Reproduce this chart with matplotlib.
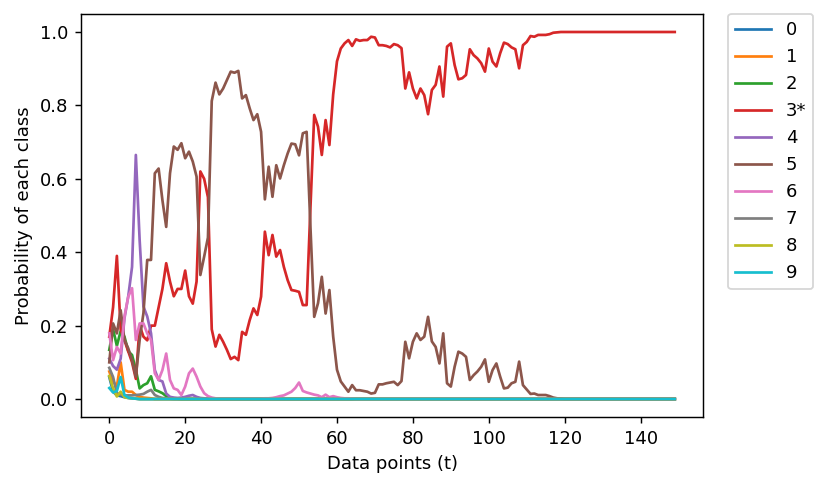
import matplotlib
matplotlib.use("Agg")
import matplotlib.pyplot as plt
import numpy as np

labels = ["0", "1", "2", "3*", "4", "5", "6", "7", "8", "9"]
n_points = 150

class0 = [0.06, 0.02, 0.01, 0.008, 0.005, 0.003, 0.002, 0.001]
class1 = [0.075, 0.047, 0.035, 0.10, 0.025, 0.02, 0.02, 0.011, 0.006, 0.004, 0.003, 0.002]
class2 = [0.134, 0.19, 0.145, 0.185, 0.17, 0.13, 0.12, 0.08, 0.029, 0.038, 0.043, 0.062,
          0.025, 0.021, 0.016, 0.008, 0.004, 0.002, 0.001]
class3 = [0.17, 0.25, 0.39, 0.19, 0.16, 0.13, 0.10, 0.055, 0.20, 0.17,
          0.16, 0.20, 0.20, 0.25, 0.30, 0.37, 0.32, 0.28, 0.30, 0.30,
          0.35, 0.28, 0.26, 0.32, 0.62, 0.60, 0.55, 0.19, 0.143, 0.175,
          0.156, 0.134, 0.109, 0.115, 0.106, 0.183, 0.175, 0.215, 0.247, 0.229,
          0.279, 0.456, 0.392, 0.447, 0.388, 0.406, 0.36, 0.324, 0.297, 0.295,
          0.292, 0.256, 0.256, 0.52, 0.774, 0.742, 0.665, 0.76, 0.692, 0.83,
          0.92, 0.955, 0.969, 0.978, 0.962, 0.98, 0.976, 0.978, 0.978, 0.987,
          0.985, 0.964, 0.964, 0.962, 0.958, 0.967, 0.964, 0.956, 0.846, 0.89,
          0.846, 0.819, 0.846, 0.828, 0.776, 0.842, 0.856, 0.906, 0.824, 0.96,
          0.969, 0.91, 0.871, 0.874, 0.883, 0.953, 0.937, 0.928, 0.915, 0.892,
          0.955, 0.919, 0.906, 0.942, 0.971, 0.967, 0.958, 0.953, 0.901, 0.964,
          0.973, 0.989, 0.987, 0.992, 0.992, 0.992, 0.994, 0.998, 0.999, 1.0]
class4 = [0.11, 0.09, 0.08, 0.11, 0.22, 0.28, 0.36, 0.665, 0.433, 0.252,
          0.225, 0.179, 0.079, 0.052, 0.048, 0.015, 0.006, 0.004, 0.003, 0.004,
          0.006, 0.009, 0.011, 0.006, 0.003, 0.002, 0.001]
class5 = [0.10, 0.206, 0.179, 0.242, 0.161, 0.138, 0.106, 0.061, 0.161, 0.234,
          0.379, 0.379, 0.615, 0.628, 0.542, 0.469, 0.615, 0.688, 0.679, 0.697,
          0.656, 0.674, 0.647, 0.606, 0.338, 0.388, 0.44, 0.812, 0.862, 0.83,
          0.846, 0.869, 0.892, 0.889, 0.894, 0.819, 0.828, 0.792, 0.76, 0.776,
          0.728, 0.544, 0.633, 0.551, 0.637, 0.601, 0.637, 0.669, 0.696, 0.694,
          0.664, 0.724, 0.728, 0.47, 0.224, 0.261, 0.333, 0.233, 0.297, 0.17,
          0.08, 0.048, 0.034, 0.02, 0.038, 0.024, 0.024, 0.022, 0.02, 0.015,
          0.017, 0.04, 0.04, 0.043, 0.045, 0.047, 0.038, 0.049, 0.156, 0.111,
          0.156, 0.179, 0.161, 0.17, 0.224, 0.157, 0.142, 0.097, 0.179, 0.043,
          0.034, 0.088, 0.129, 0.124, 0.115, 0.052, 0.065, 0.075, 0.088, 0.108,
          0.047, 0.079, 0.097, 0.061, 0.029, 0.031, 0.043, 0.047, 0.102, 0.038,
          0.026, 0.014, 0.015, 0.011, 0.011, 0.011, 0.008, 0.004, 0.002, 0.001]
class6 = [0.179, 0.106, 0.142, 0.124, 0.225, 0.279, 0.302, 0.161, 0.206, 0.206,
          0.179, 0.161, 0.07, 0.052, 0.079, 0.124, 0.052, 0.029, 0.025, 0.011,
          0.034, 0.07, 0.083, 0.061, 0.034, 0.016, 0.008, 0.004, 0.002, 0.001,
          0.001, 0.001, 0.001, 0.001, 0.001, 0.001, 0.001, 0.001, 0.001, 0.001,
          0.001, 0.002, 0.002, 0.003, 0.005, 0.008, 0.01, 0.015, 0.02, 0.03,
          0.045, 0.022, 0.018, 0.015, 0.012, 0.01, 0.005, 0.012, 0.005, 0.008,
          0.005, 0.003, 0.002, 0.002, 0.001]
class7 = [0.085, 0.06, 0.016, 0.012, 0.01, 0.01, 0.01, 0.011, 0.012, 0.014,
          0.02, 0.025, 0.011, 0.006, 0.003, 0.002, 0.001]
class8 = [0.063, 0.029, 0.007, 0.02, 0.005, 0.003, 0.002, 0.001]
class9 = [0.03, 0.018, 0.022, 0.06, 0.011, 0.004, 0.002, 0.001]

series = [class0, class1, class2, class3, class4, class5, class6, class7, class8, class9]

plt.rcParams['font.family'] = ['DejaVu Sans']
fig = plt.figure(figsize=(830 / 130, 487 / 130), dpi=130)
ax = fig.add_axes([0.0976, 0.1429, 0.7494, 0.8291])

t = np.arange(n_points)
for i, s in enumerate(series):
    vals = list(s)
    if len(vals) < n_points:
        vals = vals + [vals[-1] if i == 3 else 0.0] * (n_points - len(vals))
    ax.plot(t, vals, label=labels[i], color=f"C{i}", linewidth=1.5)

ax.set_xlabel("Data points (t)")
ax.set_ylabel("Probability of each class")
ax.legend(loc="upper left", bbox_to_anchor=(1.04, 1.0), borderaxespad=0)

fig.savefig("out.png", dpi=130)
